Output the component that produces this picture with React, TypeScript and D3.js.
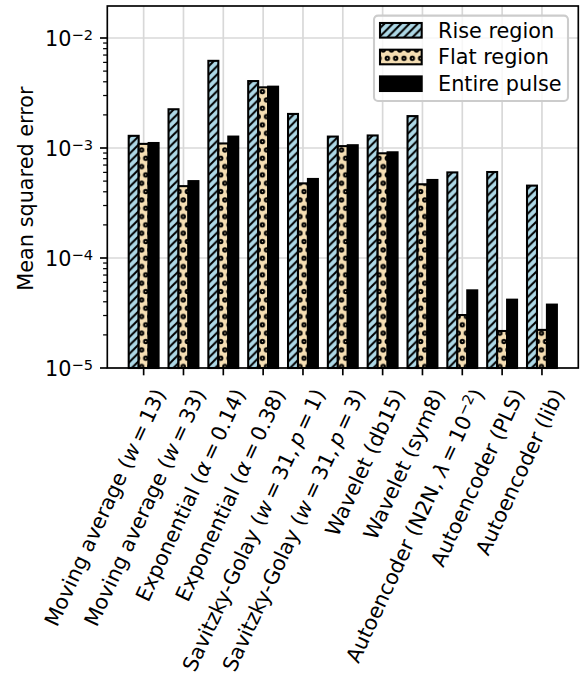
import React from 'react';
import * as d3 from 'd3';

const categories = [
  'Moving average ($w = 13$)',
  'Moving average ($w = 33$)',
  'Exponential ($α = 0.14$)',
  'Exponential ($α = 0.38$)',
  'Savitzky-Golay ($w = 31, p = 1$)',
  'Savitzky-Golay ($w = 31, p = 3$)',
  'Wavelet (db15)',
  'Wavelet (sym8)',
  'Autoencoder (N2N, $λ = 10^{-2}$)',
  'Autoencoder (PLS)',
  'Autoencoder (lib)',
];
const riseRegion = [1.29e-3, 2.25e-3, 6.2e-3, 4.06e-3, 2.04e-3, 1.27e-3, 1.3e-3, 1.95e-3, 6.0e-4, 6.05e-4, 4.55e-4];
const flatRegion = [1.09e-3, 4.5e-4, 1.1e-3, 3.56e-3, 4.77e-4, 1.04e-3, 8.95e-4, 4.68e-4, 3.03e-5, 2.17e-5, 2.22e-5];
const entirePulse = [1.11e-3, 5.0e-4, 1.27e-3, 3.61e-3, 5.23e-4, 1.06e-3, 9.14e-4, 5.12e-4, 5.08e-5, 4.18e-5, 3.77e-5];
const seriesNames = ['Rise region', 'Flat region', 'Entire pulse'];
const yTickExps = [-5, -4, -3, -2];
const yLabel = 'Mean squared error';

const FS = 20.8;
const SUP = 14.6;
const MSP = 0.195 * FS;
const FONT = '"DejaVu Sans", sans-serif';

type Seg = { t: string; it?: boolean; sup?: boolean; padL?: number; padR?: number };
function parse(s: string): Seg[] {
  const raw: Seg[] = [];
  s.split('$').forEach((p, k) => {
    if (k % 2 === 0) {
      if (p) raw.push({ t: p });
      return;
    }
    let i = 0;
    while (i < p.length) {
      const c = p[i];
      if (c === '^' && p[i + 1] === '{') {
        const j = p.indexOf('}', i);
        raw.push({ t: p.slice(i + 2, j).replace('-', '\u2212'), sup: true });
        i = j + 1;
        continue;
      }
      if (c === ' ') { i++; continue; }
      if (c === '=') raw.push({ t: c, padL: MSP, padR: MSP });
      else if (c === ',') raw.push({ t: c, padR: MSP });
      else raw.push({ t: c, it: /[a-zA-Zα-ω]/.test(c) });
      i++;
    }
  });
  const out: Seg[] = [];
  raw.forEach((r) => {
    const last = out[out.length - 1];
    if (last && !!last.it === !!r.it && !!last.sup === !!r.sup && !last.padR && !r.padL && !r.padR) last.t += r.t;
    else out.push({ ...r });
  });
  return out;
}

function Rich({ segs }: { segs: Seg[] }) {
  const nodes: React.ReactNode[] = [];
  let raised = false;
  segs.forEach((s, i) => {
    let dy: number | undefined;
    if (s.sup && !raised) { dy = -7.5; raised = true; }
    else if (!s.sup && raised) { dy = 7.5; raised = false; }
    const prev = segs[i - 1];
    const dxv = (prev && prev.padR ? prev.padR : 0) + (s.padL || 0);
    nodes.push(
      <tspan key={i} dy={dy} dx={dxv || undefined} fontStyle={s.it ? 'italic' : 'normal'} fontSize={s.sup ? SUP : FS}>
        {s.t}
      </tspan>
    );
  });
  return <>{nodes}</>;
}

export default function App() {
  const W = 583, H = 681;
  const left = 107.3, right = 578.3, top = 6, bottom = 368;
  const n = categories.length;
  const x = d3.scaleLinear().domain([-0.9125, n - 1 + 0.9125]).range([left, right]);
  const y = d3.scaleLog().domain([1e-5, 0.01954]).range([bottom, top]);
  const bw = 0.25;
  const series = [
    { name: seriesNames[0], values: riseRegion, off: -0.25, fill: '#add8e6', pat: 'url(#hatchRise)' },
    { name: seriesNames[1], values: flatRegion, off: 0, fill: '#f5deb3', pat: 'url(#dotsFlat)' },
    { name: seriesNames[2], values: entirePulse, off: 0.25, fill: '#000000', pat: null as string | null },
  ];
  const P = 8.33;
  const minorTicks: number[] = [];
  for (let e = -5; e <= -2; e++) for (let m = 2; m <= 9; m++) {
    const v = m * Math.pow(10, e);
    if (v <= y.domain()[1]) minorTicks.push(v);
  }
  const tickLen = 7.3;
  const lw = 1.67;
  const elw = 2.08;
  return (
    <svg width={W} height={H} style={{ position: 'absolute', left: 0, top: 0, background: '#fff' }} fontFamily={FONT}>
      <defs>
        <pattern id="hatchRise" patternUnits="userSpaceOnUse" width={P} height={P}>
          <path d={`M0,${P} L${P},0 M${-P / 4},${P / 4} L${P / 4},${-P / 4} M${P - P / 4},${P + P / 4} L${P + P / 4},${P - P / 4}`} stroke="#000" strokeWidth={elw} />
        </pattern>
        <pattern id="dotsFlat" patternUnits="userSpaceOnUse" width={P} height={2 * P}>
          {[[0, 0], [P, 0], [0, 2 * P], [P, 2 * P], [P / 2, P]].map(([cx, cy], i) => (
            <circle key={i} cx={cx} cy={cy} r={0.2 * P} fill="none" stroke="#000" strokeWidth={elw} />
          ))}
        </pattern>
      </defs>
      {/* grid */}
      <g stroke="#d8d8d8" strokeWidth={lw}>
        {categories.map((_, i) => (
          <line key={'gx' + i} x1={x(i)} x2={x(i)} y1={top} y2={bottom} />
        ))}
        {yTickExps.map((e) => (
          <line key={'gy' + e} x1={left} x2={right} y1={y(Math.pow(10, e))} y2={y(Math.pow(10, e))} />
        ))}
      </g>
      {/* bars */}
      {series.map((s) => (
        <g key={s.name}>
          {s.values.map((v, i) => {
            const x0 = x(i + s.off - bw / 2);
            const w = x(i + s.off + bw / 2) - x0;
            const y0 = y(v);
            return (
              <g key={i}>
                <rect x={x0} y={y0} width={w} height={bottom - y0} fill={s.fill} />
                {s.pat && <rect x={x0} y={y0} width={w} height={bottom - y0} fill={s.pat} />}
                <rect x={x0} y={y0} width={w} height={bottom - y0} fill="none" stroke="#000" strokeWidth={elw} />
              </g>
            );
          })}
        </g>
      ))}
      {/* spines */}
      <rect x={left} y={top} width={right - left} height={bottom - top} fill="none" stroke="#000" strokeWidth={lw} />
      {/* x ticks */}
      {categories.map((c, i) => (
        <g key={'xt' + i}>
          <line x1={x(i)} x2={x(i)} y1={bottom} y2={bottom + tickLen} stroke="#000" strokeWidth={lw} />
          <text
            transform={`translate(${x(i)},${bottom + 2 * tickLen}) rotate(-65)`}
            textAnchor="end"
            dy={25}
            fontSize={FS}
            style={{ whiteSpace: 'pre' }}
          >
            <Rich segs={parse(c)} />
          </text>
        </g>
      ))}
      {/* y ticks */}
      {yTickExps.map((e) => {
        const yy = y(Math.pow(10, e));
        return (
          <g key={'yt' + e}>
            <line x1={left - tickLen} x2={left} y1={yy} y2={yy} stroke="#000" strokeWidth={lw} />
            <text x={93} y={yy + 8} textAnchor="end" fontSize={FS}>
              <tspan>10</tspan>
              <tspan fontSize={SUP} dy={-6}>{'\u2212' + Math.abs(e)}</tspan>
            </text>
          </g>
        );
      })}
      {minorTicks.map((v, i) => (
        <line key={'mt' + i} x1={left - 4.2} x2={left} y1={y(v)} y2={y(v)} stroke="#000" strokeWidth={1.25} />
      ))}
      <text transform={`translate(33,${(top + bottom) / 2 + 1.5}) rotate(-90)`} textAnchor="middle" fontSize={FS}>
        {yLabel}
      </text>
      {/* legend */}
      <g>
        <rect x={374} y={15.6} width={194} height={85.4} rx={4} fill="#fff" fillOpacity={0.8} stroke="#cccccc" strokeWidth={elw} />
        {series.map((s, i) => {
          const cy = 30.3 + 26.7 * i;
          return (
            <g key={'lg' + i}>
              <rect x={380} y={cy - 7.3} width={41.7} height={14.6} fill={s.fill} />
              {s.pat && <rect x={380} y={cy - 7.3} width={41.7} height={14.6} fill={s.pat} />}
              <rect x={380} y={cy - 7.3} width={41.7} height={14.6} fill="none" stroke="#000" strokeWidth={elw} />
              <text x={438} y={cy + 7.3} fontSize={FS}>{s.name}</text>
            </g>
          );
        })}
      </g>
    </svg>
  );
}
